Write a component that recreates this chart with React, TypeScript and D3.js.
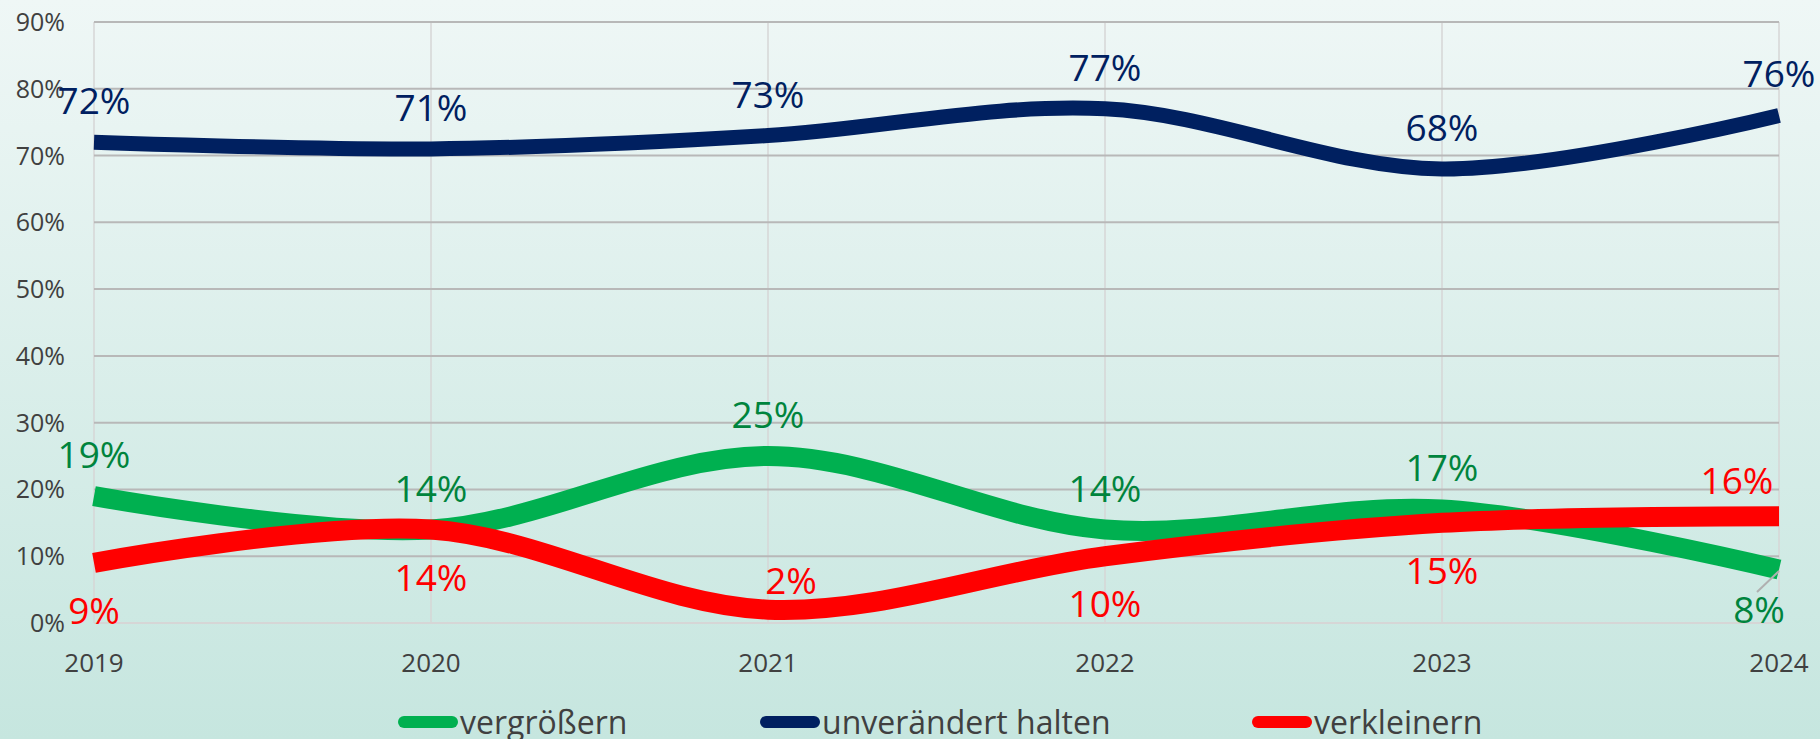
import React, { useEffect } from "react";
import * as d3 from "d3";

// values (percent)
const years = ["2019", "2020", "2021", "2022", "2023", "2024"];
const vergroessern = [19, 14, 25, 14, 17, 8];
const unveraendert = [72, 71, 73, 77, 68, 76];
const verkleinern = [9, 14, 2, 10, 15, 16];
const yTicks = [0, 10, 20, 30, 40, 50, 60, 70, 80, 90];

const seriesNames = ["vergrößern", "unverändert halten", "verkleinern"];
const seriesValues = [vergroessern, unveraendert, verkleinern];
const lineColors = ["#00b050", "#002060", "#ff0000"];
const labelColors = ["#00843d", "#002060", "#ff0000"];
const lineWidths = [20, 15, 20];

// where each data label sits: "a" above, "b" below, or a manual nudge [dx, dy]
const labelPlacement: (string | number[])[][] = [
	["a", "a", "a", "a", "a", [-20, 53]],
	["a", "a", "a", "a", "a", "a"],
	["b", "b", [23, -16], "b", "b", [-42, -22]],
];

const W = 1820;
const H = 739;
const font = "'Open Sans', 'Noto Sans', sans-serif";

export default function App() {
	useEffect(() => {
		document.body.style.margin = "0";
		document.body.style.overflow = "hidden";
	}, []);

	const x = d3.scalePoint().domain(years).range([94, 1779]);
	const y = d3.scaleLinear().domain([0, 90]).range([623, 22]);

	const line = d3
		.line<number>()
		.x((_, i) => x(years[i]) as number)
		.y((d) => y(d))
		.curve(d3.curveCardinal.tension(0));

	const legendX = [398, 760, 1252];

	return (
		<svg width={W} height={H} style={{ display: "block" }} fontFamily={font}>
			<defs>
				<linearGradient id="bg" x1="0" y1="0" x2="0" y2="1">
					<stop offset="0" stopColor="#eff7f6" />
					<stop offset="1" stopColor="#c6e6df" />
				</linearGradient>
			</defs>
			<rect width={W} height={H} fill="url(#bg)" />

			{/* vertical grid */}
			{years.map((yr) => (
				<line
					key={yr}
					x1={x(yr)}
					x2={x(yr)}
					y1={y(90)}
					y2={y(0)}
					stroke="#d6d6d6"
					strokeWidth={1.5}
				/>
			))}
			{/* horizontal grid */}
			{yTicks.map((t) => (
				<line
					key={t}
					x1={x("2019")}
					x2={x("2024")}
					y1={y(t)}
					y2={y(t)}
					stroke={t === 0 ? "#d6d6d6" : "#b8b8b8"}
					strokeWidth={2}
				/>
			))}
			{yTicks.map((t) => (
				<text
					key={t}
					x={65}
					y={y(t)}
					dy="0.36em"
					textAnchor="end"
					fontSize={25}
					fill="#404040"
				>
					{t}%
				</text>
			))}
			{years.map((yr) => (
				<text
					key={yr}
					x={x(yr)}
					y={672}
					textAnchor="middle"
					fontSize={26}
					fill="#404040"
				>
					{yr}
				</text>
			))}

			{seriesValues.map((vals, s) => (
				<path
					key={s}
					d={line(vals) ?? ""}
					fill="none"
					stroke={lineColors[s]}
					strokeWidth={lineWidths[s]}
				/>
			))}

			{/* leader line for the moved 8% label */}
			<line x1={1757} y1={592} x2={1779} y2={571} stroke="#b0b0b0" strokeWidth={2} />

			{seriesValues.map((vals, s) =>
				vals.map((v, i) => {
					const p = labelPlacement[s][i];
					let lx = x(years[i]) as number;
					let ly = y(v);
					if (p === "a") ly -= 28;
					else if (p === "b") ly += 61;
					else {
						lx += (p as number[])[0];
						ly += (p as number[])[1];
					}
					return (
						<text
							key={`${s}-${i}`}
							x={lx}
							y={ly}
							textAnchor="middle"
							fontSize={37}
							fill={labelColors[s]}
						>
							{v}%
						</text>
					);
				})
			)}

			{/* legend */}
			{seriesNames.map((name, s) => (
				<g key={name} transform={`translate(${legendX[s]},722)`}>
					<line
						x1={6}
						x2={54}
						y1={0}
						y2={0}
						stroke={lineColors[s]}
						strokeWidth={12}
						strokeLinecap="round"
					/>
					<text x={62} y={12} fontSize={32} fill="#404040">
						{name}
					</text>
				</g>
			))}
		</svg>
	);
}
